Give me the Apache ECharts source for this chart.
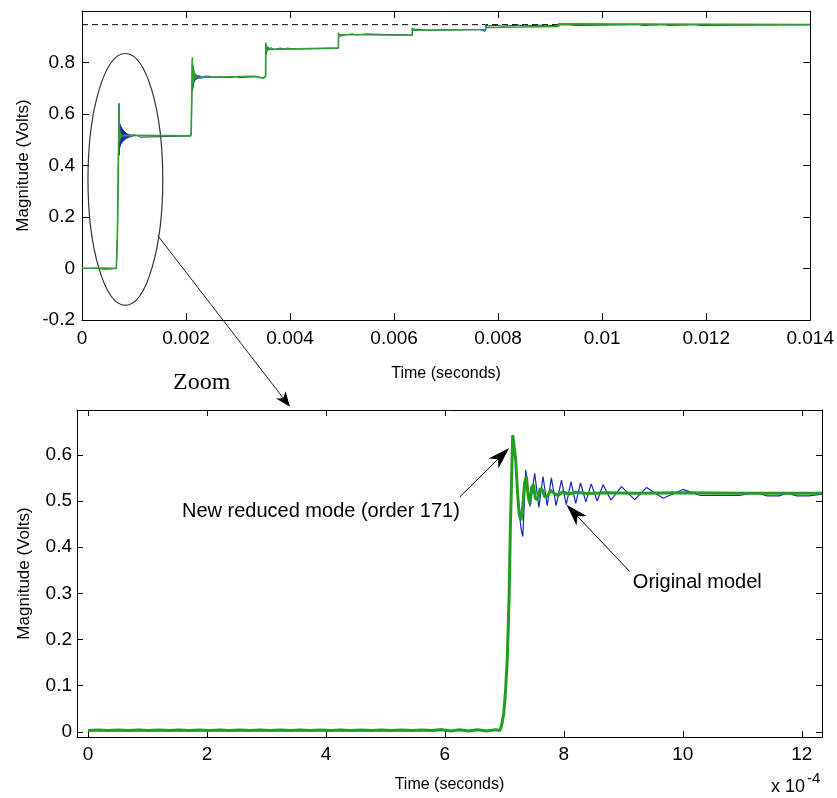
<!DOCTYPE html>
<html>
<head>
<meta charset="utf-8">
<script src="https://cdn.jsdelivr.net/npm/echarts@6/dist/echarts.min.js"></script>
<style>html,body{margin:0;padding:0;background:#fff}#c{width:837px;height:798px}</style>
</head>
<body>
<div id="c"></div>
<script>
// ---------- DATA ----------
// Top panel: time in seconds
const topXTicks = [0, 0.002, 0.004, 0.006, 0.008, 0.01, 0.012, 0.014];
const topYTicks = [-0.2, 0, 0.2, 0.4, 0.6, 0.8];
const finalValue = [[0, 0.947], [0.014, 0.947]];
const topReduced = [
 [0, 0.001], [0.0003, 0.002], [0.00066, 0.001], [0.00067, -0.004], [0.00068, 0.12], [0.000712, 0.12],
 [0.000714, 0.642], [0.000717, 0.49], [0.00072, 0.545], [0.000723, 0.498], [0.000727, 0.535], [0.000731, 0.503],
 [0.000736, 0.528], [0.000741, 0.507], [0.000747, 0.524], [0.000753, 0.51], [0.00076, 0.52], [0.000768, 0.512],
 [0.000778, 0.518], [0.00079, 0.514], [0.00081, 0.517],
 [0.00209, 0.515], [0.0021, 0.53], [0.00212, 0.53],
 [0.002122, 0.82], [0.002125, 0.70], [0.002128, 0.795], [0.002131, 0.71], [0.002135, 0.785], [0.002139, 0.72],
 [0.002144, 0.775], [0.002149, 0.728], [0.002155, 0.766], [0.002161, 0.734], [0.002168, 0.759], [0.002176, 0.739],
 [0.002185, 0.754], [0.002195, 0.742], [0.00221, 0.749], [0.00223, 0.746],
 [0.00332, 0.746], [0.00333, 0.739], [0.00349, 0.739], [0.0035, 0.746], [0.00353, 0.746],
 [0.003532, 0.878], [0.003535, 0.832], [0.003538, 0.872], [0.003542, 0.838], [0.003546, 0.867], [0.00355, 0.843],
 [0.003555, 0.863], [0.00356, 0.848], [0.003566, 0.86], [0.003573, 0.851], [0.003582, 0.858], [0.003595, 0.854], [0.00361, 0.856],
 [0.00493, 0.856], [0.004932, 0.916], [0.004935, 0.896], [0.004939, 0.912], [0.004944, 0.9], [0.00495, 0.909],
 [0.004957, 0.903], [0.004966, 0.907], [0.00498, 0.906],
 [0.00635, 0.906], [0.006352, 0.936], [0.006356, 0.922], [0.00636, 0.933], [0.006366, 0.925], [0.006374, 0.93], [0.006385, 0.928],
 [0.00776, 0.928], [0.007762, 0.948], [0.007766, 0.936], [0.007772, 0.943], [0.00778, 0.939], [0.00779, 0.94],
 [0.00916, 0.94], [0.009162, 0.95], [0.009168, 0.945], [0.009176, 0.948], [0.0092, 0.947], [0.014, 0.947]
];
const topOriginal = [
 [0, 0.0], [0.00028, 0.0], [0.00029, -0.003], [0.00047, -0.003], [0.00048, 0.0], [0.00066, 0.0], [0.00068, 0.12], [0.000712, 0.12],
 [0.000714, 0.64], [0.000717, 0.44], [0.00072, 0.568], [0.000724, 0.468], [0.000728, 0.562], [0.000732, 0.474],
 [0.000737, 0.557], [0.000742, 0.479], [0.000747, 0.552], [0.000752, 0.484], [0.000758, 0.548], [0.000764, 0.488],
 [0.00077, 0.544], [0.000777, 0.491], [0.000784, 0.54], [0.000791, 0.494], [0.000799, 0.536], [0.000807, 0.497],
 [0.000816, 0.532], [0.000825, 0.5], [0.000835, 0.529], [0.000845, 0.503], [0.000856, 0.526], [0.000868, 0.505],
 [0.00088, 0.524], [0.000894, 0.507], [0.000908, 0.522], [0.000924, 0.509], [0.00094, 0.52], [0.00096, 0.511],
 [0.00098, 0.519], [0.001, 0.512], [0.00103, 0.518], [0.00106, 0.512], [0.00108, 0.515], [0.00109, 0.51],
 [0.00112, 0.51], [0.00113, 0.515], [0.00209, 0.515],
 [0.0021, 0.53], [0.00212, 0.53], [0.002122, 0.81], [0.002125, 0.69], [0.002128, 0.79], [0.002132, 0.70],
 [0.002136, 0.78], [0.00214, 0.71], [0.002145, 0.77], [0.00215, 0.72], [0.002156, 0.762], [0.002162, 0.727],
 [0.00217, 0.757], [0.002178, 0.731], [0.002187, 0.754], [0.002197, 0.734], [0.002208, 0.751], [0.00222, 0.736],
 [0.002234, 0.75], [0.002248, 0.737], [0.002264, 0.749], [0.00228, 0.738], [0.0023, 0.748], [0.00232, 0.739],
 [0.00235, 0.747], [0.00238, 0.74], [0.00241, 0.747], [0.00244, 0.741], [0.00248, 0.746], [0.00252, 0.741],
 [0.00256, 0.746], [0.0026, 0.742], [0.00264, 0.746], [0.00268, 0.742], [0.0029, 0.742], [0.00292, 0.746],
 [0.00296, 0.746], [0.00297, 0.741], [0.00301, 0.741], [0.00302, 0.746], [0.00332, 0.746], [0.00333, 0.74],
 [0.00349, 0.74], [0.0035, 0.746], [0.00353, 0.746],
 [0.003532, 0.87], [0.003535, 0.83], [0.003538, 0.868], [0.003542, 0.835], [0.003546, 0.865], [0.00355, 0.84],
 [0.003556, 0.862], [0.003562, 0.845], [0.00357, 0.86], [0.00358, 0.848], [0.00359, 0.858], [0.0036, 0.85],
 [0.00362, 0.852], [0.00363, 0.858], [0.00366, 0.853], [0.00368, 0.851], [0.0037, 0.856], [0.00375, 0.852],
 [0.00378, 0.852], [0.0038, 0.856], [0.0039, 0.853], [0.00395, 0.856], [0.00405, 0.853], [0.0041, 0.853],
 [0.00412, 0.856], [0.00493, 0.856],
 [0.004932, 0.912], [0.004935, 0.898], [0.00494, 0.91], [0.004946, 0.901], [0.004953, 0.908], [0.00496, 0.904],
 [0.00505, 0.907], [0.00508, 0.911], [0.0052, 0.911], [0.00522, 0.907], [0.00528, 0.907], [0.0053, 0.911],
 [0.00545, 0.911], [0.00547, 0.906], [0.00635, 0.906],
 [0.006352, 0.93], [0.006356, 0.924], [0.00636, 0.93], [0.00637, 0.927], [0.0065, 0.928], [0.00652, 0.925],
 [0.0066, 0.925], [0.00662, 0.928], [0.00765, 0.928], [0.00768, 0.921], [0.00775, 0.921], [0.00777, 0.935],
 [0.00778, 0.945], [0.00782, 0.942], [0.00785, 0.946], [0.0079, 0.944], [0.008, 0.944], [0.00802, 0.941],
 [0.00808, 0.941], [0.0081, 0.945], [0.0084, 0.945], [0.00842, 0.942], [0.0085, 0.942], [0.00852, 0.946],
 [0.0088, 0.945], [0.00882, 0.942], [0.0089, 0.942], [0.00892, 0.945], [0.00914, 0.945], [0.00916, 0.947],
 [0.0093, 0.947], [0.00932, 0.944], [0.0095, 0.944], [0.00952, 0.947], [0.0107, 0.947], [0.01072, 0.944],
 [0.01078, 0.944], [0.0108, 0.947], [0.0112, 0.947], [0.01122, 0.944], [0.01128, 0.944], [0.0113, 0.947],
 [0.0118, 0.947], [0.01182, 0.944], [0.01188, 0.944], [0.0119, 0.947], [0.014, 0.947]
];

// Bottom panel: time in units of 1e-4 s
const botXTicks = [0, 2, 4, 6, 8, 10, 12];
const botYTicks = [0, 0.1, 0.2, 0.3, 0.4, 0.5, 0.6];
const bottomReduced = [
 [0, 0.003], [0.17, 0.004], [0.34, 0.003], [0.51, 0.004], [0.68, 0.003], [0.85, 0.004], [1.02, 0.003],
 [1.19, 0.004], [1.36, 0.003], [1.53, 0.004], [1.7, 0.003], [1.87, 0.004], [2.04, 0.003], [2.21, 0.004],
 [2.38, 0.003], [2.55, 0.004], [2.72, 0.003], [2.89, 0.004], [3.06, 0.003], [3.23, 0.004], [3.4, 0.003],
 [3.57, 0.004], [3.74, 0.003], [3.91, 0.004], [4.08, 0.003], [4.25, 0.004], [4.42, 0.003], [4.59, 0.004],
 [4.76, 0.003], [4.93, 0.004], [5.1, 0.003], [5.27, 0.004], [5.44, 0.003], [5.61, 0.004], [5.78, 0.003],
 [5.95, 0.005], [6.1, 0.002], [6.25, 0.005], [6.4, 0.002], [6.55, 0.005], [6.7, 0.002], [6.85, 0.005], [6.92, 0.003],
 [6.95, 0.012], [6.99, 0.04], [7.02, 0.09], [7.05, 0.163], [7.08, 0.293], [7.10, 0.437], [7.12, 0.539],
 [7.14, 0.643], [7.17, 0.646], [7.19, 0.59], [7.22, 0.52], [7.25, 0.47], [7.28, 0.458], [7.31, 0.49],
 [7.34, 0.54], [7.37, 0.553], [7.40, 0.51], [7.43, 0.494], [7.46, 0.53], [7.49, 0.535], [7.52, 0.506],
 [7.56, 0.503], [7.60, 0.527], [7.64, 0.524], [7.68, 0.508], [7.73, 0.512], [7.78, 0.523], [7.84, 0.516],
 [7.9, 0.512], [7.98, 0.52], [8.08, 0.515], [8.2, 0.519], [8.4, 0.516], [8.7, 0.518], [9.2, 0.517],
 [10, 0.518], [11, 0.517], [12.34, 0.517]
];
const bottomOriginal = [
 [0, 0.003], [6.92, 0.003], [6.95, 0.012], [6.99, 0.04], [7.02, 0.09], [7.05, 0.163], [7.08, 0.293],
 [7.10, 0.437], [7.12, 0.539], [7.14, 0.643], [7.17, 0.64], [7.2, 0.57], [7.24, 0.49], [7.28, 0.44],
 [7.31, 0.423], [7.36, 0.567], [7.43, 0.488], [7.51, 0.56], [7.58, 0.486], [7.65, 0.553], [7.72, 0.49],
 [7.79, 0.55], [7.87, 0.49], [7.96, 0.545], [8.04, 0.492], [8.12, 0.542], [8.2, 0.495], [8.28, 0.539],
 [8.37, 0.498], [8.46, 0.537], [8.56, 0.5], [8.66, 0.535], [8.79, 0.502], [8.97, 0.531], [9.19, 0.503],
 [9.39, 0.529], [9.67, 0.506], [10.0, 0.525], [10.3, 0.512], [10.95, 0.512], [11.15, 0.517], [11.3, 0.516],
 [11.42, 0.511], [11.62, 0.511], [11.75, 0.517], [11.92, 0.511], [12.12, 0.511], [12.34, 0.515]
];

// ---------- ANNOTATION ANCHORS (data coords) ----------
const anno = {
  ellipse: { center: [0.000834, 0.346], half: [0.000719, 0.489] },
  zoomStart: [0.001457, 0.1275], zoomTip: [3.395, 0.704],
  reducedText: [6.252, 0.4765], reducedFrom: [6.252, 0.509], reducedTip: [7.081, 0.6145],
  origText: [9.16, 0.3227], origFrom: [9.109, 0.347], origTip: [8.045, 0.4917]
};

// ---------- CHART ----------
const FONT = '"Liberation Sans", Arial, Helvetica, sans-serif';
const chart = echarts.init(document.getElementById('c'), null, { renderer: 'canvas' });
const axisLineStyle = { show: true, onZero: false, lineStyle: { color: '#000', width: 1 } };
const lbl = (size, margin) => ({ color: '#000', fontSize: size, fontFamily: FONT, margin: margin });

const option = {
  animation: false,
  backgroundColor: '#fff',
  grid: [
    { left: 82, top: 11, width: 731, height: 309 },
    { left: 77, top: 410, width: 745, height: 327 }
  ],
  xAxis: [
    { gridIndex: 0, type: 'value', min: 0, max: 0.014, interval: 0.002, position: 'bottom',
      axisLine: axisLineStyle, axisTick: { inside: true, length: 7, lineStyle: { color: '#000' } },
      axisLabel: lbl(19, 9), splitLine: { show: false },
      name: 'Time (seconds)', nameLocation: 'middle', nameGap: 46,
      nameTextStyle: { color: '#000', fontSize: 16, fontFamily: FONT } },
    { gridIndex: 0, type: 'value', min: 0, max: 0.014, interval: 0.002, position: 'top',
      axisLine: axisLineStyle, axisTick: { inside: true, length: 7, lineStyle: { color: '#000' } },
      axisLabel: { show: false }, splitLine: { show: false } },
    { gridIndex: 1, type: 'value', min: -0.185, max: 12.34, position: 'bottom',
      axisLine: axisLineStyle,
      axisTick: { inside: true, length: 6, customValues: botXTicks, lineStyle: { color: '#000' } },
      axisLabel: Object.assign(lbl(19, 8), { customValues: botXTicks }), splitLine: { show: false },
      name: 'Time (seconds)', nameLocation: 'middle', nameGap: 40,
      nameTextStyle: { color: '#000', fontSize: 16, fontFamily: FONT } },
    { gridIndex: 1, type: 'value', min: -0.185, max: 12.34, position: 'top',
      axisLine: axisLineStyle,
      axisTick: { inside: true, length: 6, customValues: botXTicks, lineStyle: { color: '#000' } },
      axisLabel: { show: false }, splitLine: { show: false } }
  ],
  yAxis: [
    { gridIndex: 0, type: 'value', min: -0.2, max: 1.0, interval: 0.2, position: 'left',
      axisLine: axisLineStyle, axisTick: { inside: true, length: 7, lineStyle: { color: '#000' } },
      axisLabel: Object.assign(lbl(19, 7), { showMaxLabel: false }), splitLine: { show: false },
      name: 'Magnitude (Volts)', nameLocation: 'middle', nameGap: 49,
      nameTextStyle: { color: '#000', fontSize: 17, fontFamily: FONT } },
    { gridIndex: 0, type: 'value', min: -0.2, max: 1.0, interval: 0.2, position: 'right',
      axisLine: axisLineStyle, axisTick: { inside: true, length: 7, lineStyle: { color: '#000' } },
      axisLabel: { show: false }, splitLine: { show: false } },
    { gridIndex: 1, type: 'value', min: -0.011, max: 0.697, position: 'left',
      axisLine: axisLineStyle,
      axisTick: { inside: true, length: 6, customValues: botYTicks, lineStyle: { color: '#000' } },
      axisLabel: Object.assign(lbl(19, 5), { customValues: botYTicks }), splitLine: { show: false },
      name: 'Magnitude (Volts)', nameLocation: 'middle', nameGap: 44,
      nameTextStyle: { color: '#000', fontSize: 17, fontFamily: FONT } },
    { gridIndex: 1, type: 'value', min: -0.011, max: 0.697, position: 'right',
      axisLine: axisLineStyle,
      axisTick: { inside: true, length: 6, customValues: botYTicks, lineStyle: { color: '#000' } },
      axisLabel: { show: false }, splitLine: { show: false } }
  ],
  series: [
    { type: 'line', xAxisIndex: 0, yAxisIndex: 0, data: finalValue, showSymbol: false, silent: true,
      lineStyle: { color: '#000', width: 1, type: [6, 4] } },
    { type: 'line', xAxisIndex: 0, yAxisIndex: 0, data: topOriginal, showSymbol: false, silent: true,
      lineStyle: { color: '#1428b4', width: 1 } },
    { type: 'line', xAxisIndex: 0, yAxisIndex: 0, data: topReduced, showSymbol: false, silent: true,
      lineStyle: { color: '#2ca02c', width: 1.6 } },
    { type: 'line', xAxisIndex: 2, yAxisIndex: 2, data: bottomOriginal, showSymbol: false, silent: true,
      lineStyle: { color: '#1428c0', width: 1.2 } },
    { type: 'line', xAxisIndex: 2, yAxisIndex: 2, data: bottomReduced, showSymbol: false, silent: true,
      lineStyle: { color: '#1f9f1f', width: 3 } }
  ]
};
chart.setOption(option);

function arrow(p0, p1, L, W, stroke) {
  const dx = p1[0] - p0[0], dy = p1[1] - p0[1];
  const len = Math.hypot(dx, dy), ux = dx / len, uy = dy / len, nx = -uy, ny = ux;
  const bx = p1[0] - L * ux, by = p1[1] - L * uy;
  const cx = p1[0] - 0.72 * L * ux, cy = p1[1] - 0.72 * L * uy;
  return [
    { type: 'line', silent: true, shape: { x1: p0[0], y1: p0[1], x2: cx, y2: cy }, style: { stroke: stroke, lineWidth: 1 } },
    { type: 'polygon', silent: true, shape: { points: [p1, [bx + W * nx, by + W * ny], [cx, cy], [bx - W * nx, by - W * ny]] }, style: { fill: '#000' } }
  ];
}
const toTop = (p) => chart.convertToPixel({ seriesIndex: 2 }, p);
const toBot = (p) => chart.convertToPixel({ seriesIndex: 4 }, p);

const ec = toTop(anno.ellipse.center);
const ee = toTop([anno.ellipse.center[0] + anno.ellipse.half[0], anno.ellipse.center[1] - anno.ellipse.half[1]]);
const rt = toBot(anno.reducedText), ot = toBot(anno.origText);
const graphics = [
  { type: 'ellipse', silent: true, shape: { cx: ec[0], cy: ec[1], rx: ee[0] - ec[0], ry: ee[1] - ec[1] },
    style: { fill: 'none', stroke: '#333', lineWidth: 1.2 } },
  ...arrow(toTop(anno.zoomStart), toBot(anno.zoomTip), 15, 6, '#222'),
  ...arrow(toBot(anno.reducedFrom), toBot(anno.reducedTip), 22, 7, '#000'),
  ...arrow(toBot(anno.origFrom), toBot(anno.origTip), 22, 7, '#000'),
  { type: 'text', silent: true, x: rt[0], y: rt[1],
    style: { text: 'New reduced mode (order 171)', fontSize: 20, fontFamily: FONT, fill: '#000', align: 'right', verticalAlign: 'middle' } },
  { type: 'text', silent: true, x: ot[0], y: ot[1],
    style: { text: 'Original model', fontSize: 20, fontFamily: FONT, fill: '#000', align: 'left', verticalAlign: 'middle' } },
  { type: 'text', silent: true, x: 173, y: 383,
    style: { text: 'Zoom', fontSize: 24, fontFamily: '"Liberation Serif", "Times New Roman", serif', fill: '#000', align: 'left', verticalAlign: 'middle' } },
  { type: 'text', silent: true, x: 805, y: 787,
    style: { text: 'x 10', fontSize: 18, fontFamily: FONT, fill: '#000', align: 'right', verticalAlign: 'middle' } },
  { type: 'text', silent: true, x: 807, y: 779,
    style: { text: '-4', fontSize: 15, fontFamily: FONT, fill: '#000', align: 'left', verticalAlign: 'middle' } }
];
chart.setOption({ graphic: graphics });
</script>
</body>
</html>
